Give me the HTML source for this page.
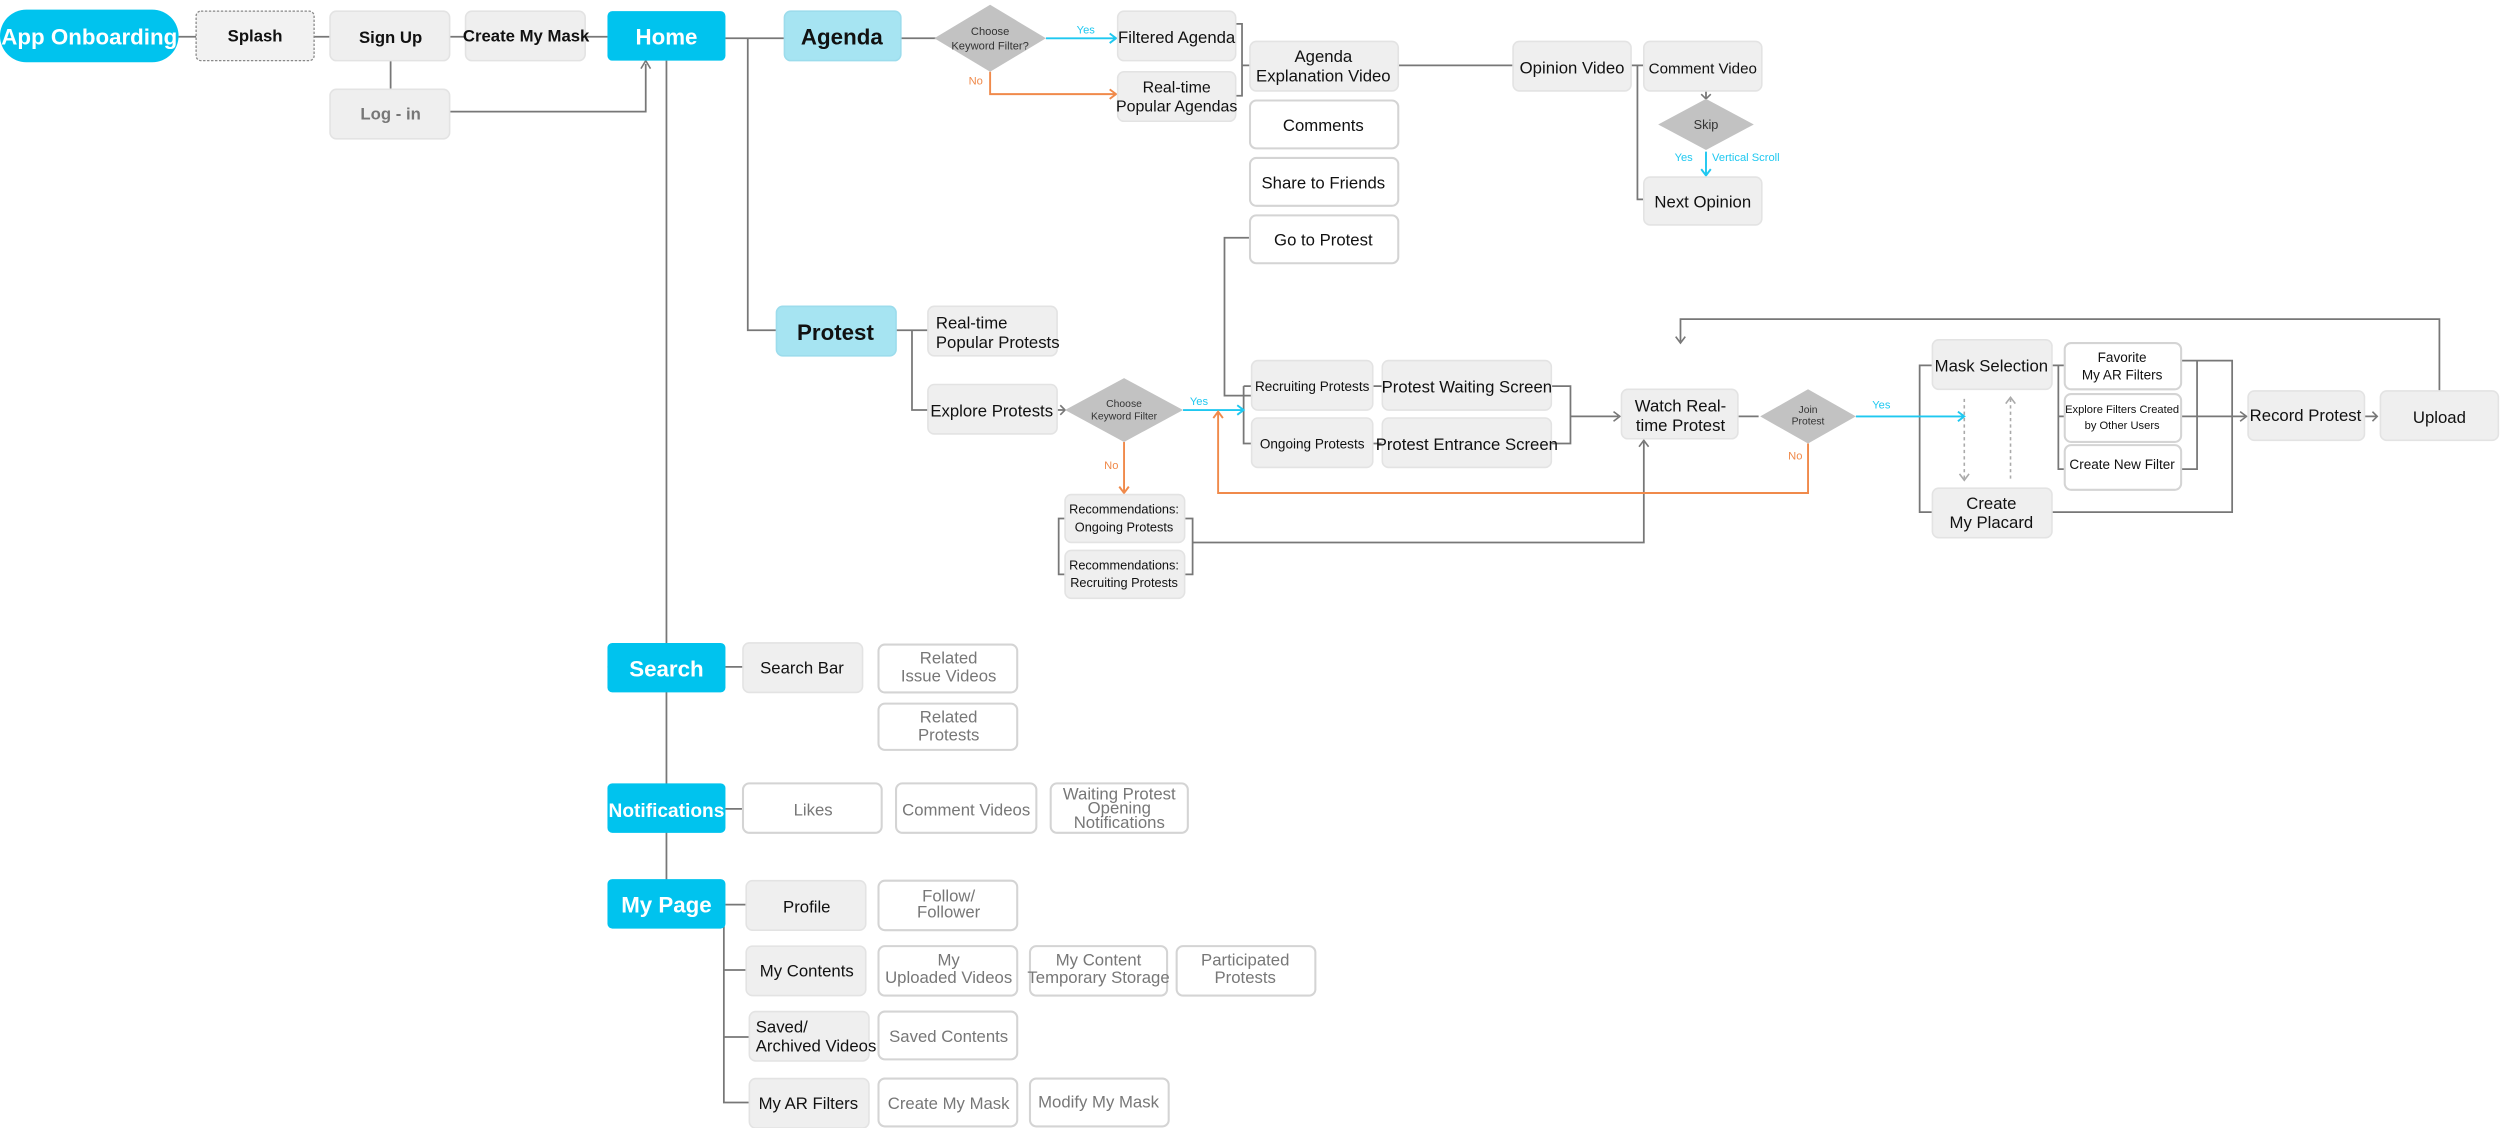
<!DOCTYPE html>
<html><head><meta charset="utf-8"><style>
html,body{margin:0;padding:0;background:#fff;}
svg{display:block;}
text{font-family:"Liberation Sans",Arial,sans-serif;text-anchor:middle;fill:#111;font-size:10.5px;}
.g{fill:#efefef;stroke:#e3e3e3;stroke-width:1;}
.w{fill:#fff;stroke:#d4d4d4;stroke-width:1.3;}
.c{fill:#00c3ee;}
.lb{fill:#a6e4f2;stroke:#9cdcec;stroke-width:1;}
.d{fill:#c2c2c2;}
.ln{fill:none;stroke:#777;stroke-width:1.1;}
.ln2{fill:none;stroke:#999;stroke-width:1.4;}
.cy{fill:none;stroke:#1fc8f0;stroke-width:1.2;}
.or{fill:none;stroke:#f08a4b;stroke-width:1.2;}
.gt{fill:#777;}
.hw{fill:#fff;font-weight:bold;font-size:14px;}
.hb{font-weight:bold;font-size:14px;}
.b{font-weight:bold;font-size:10.5px;}
.s{font-size:7px;}
.y{fill:#1fc8f0;font-size:7px;}
.o{fill:#f08a4b;font-size:7px;}
</style></head><body>
<svg width="2500" height="1128" viewBox="0 0 1568 707" preserveAspectRatio="none" xmlns="http://www.w3.org/2000/svg">
<!-- connectors -->
<g class="ln">
<path d="M112 23H123 M197 23H207 M282 23H292 M367 23H381"/>
<path d="M245 38V56 M282 70H405V40"/>
<path d="M455 24H492 M469 24V207H487 M418 38V567"/>
<path d="M418 418H381 M455 418H466 M455 507H466 M455 567H468 M454 567V691H470 M454 608H468 M454 650H470"/>
<path d="M565 24H588 M562 207H582 M572 207V257H582 M663 257H668"/>
<path d="M775 15H779V60H775 M779 41H784 M877 41H949 M1023 41H1031 M1027 41V125H1031"/>
<path d="M784 149H768V248H785"/>
<path d="M780 242H785 M780 242V278H785 M861 242H867 M861 278H867"/>
<path d="M973 242H985V278H973 M985 261H1015"/>
<path d="M668 325H664V360H668 M743 325H748V360H743 M748 340H1031V277"/>
<path d="M1090 261H1103"/>
<path d="M1212 229H1204V321H1212"/>
<path d="M1287 229H1295 M1291 229V294H1295 M1291 261H1295"/>
<path d="M1368 226H1400V321H1287 M1368 294H1378V226 M1368 261H1408"/>
<path d="M1483 261H1491 M1530 245V200H1054V214"/>
<path d="M1070 57V62"/>
</g>
<g fill="none" stroke="#777" stroke-width="1">
<path d="M402 43L405 38L408 43 M1012 258L1016 261L1012 264 M1028 280L1031 276L1034 280 M1405 258L1409 261L1405 264 M1488 258L1491 261L1488 264 M1051 211L1054 215L1057 211 M1067 59L1070 62L1073 59 M665 254L668 257L665 260"/>
</g>
<g fill="none" stroke="#aaa" stroke-width="1" stroke-dasharray="2,2">
<path d="M1232 250V300 M1261 250V300"/>
</g>
<path d="M1229 297L1232 301L1235 297 M1258 253L1261 249L1264 253" fill="none" stroke="#aaa" stroke-width="1"/>
<g class="cy">
<path d="M656 24H700 M696 21L700 24L696 27 M742 257H780 M776 254L780 257L776 260 M1164 261H1232 M1228 258L1232 261L1228 264 M1070 95V110 M1067 106L1070 110L1073 106"/>
</g>
<g class="or">
<path d="M621 45V59H700 M696 56L700 59L696 62 M705 277V309 M702 305L705 309L708 305 M1134 278V309H764V259 M761 262L764 258L767 262"/>
</g>
<!-- diamonds -->
<polygon class="d" points="621,3 656,24 621,45 586,24"/>
<text class="s" x="621" y="22" style="fill:#333">Choose</text><text class="s" x="621" y="31" style="fill:#333">Keyword Filter?</text>
<polygon class="d" points="705,237 742,257 705,277 668,257"/>
<text class="s" x="705" y="255" style="fill:#333;font-size:6.5px">Choose</text><text class="s" x="705" y="263" style="fill:#333;font-size:6.5px">Keyword Filter</text>
<polygon class="d" points="1070,62 1100,78 1070,94 1040,78"/>
<text x="1070" y="81" style="font-size:8px;fill:#333">Skip</text>
<polygon class="d" points="1134,244 1164,261 1134,278 1104,261"/>
<text class="s" x="1134" y="259" style="fill:#333;font-size:6.5px">Join</text><text class="s" x="1134" y="266" style="fill:#333;font-size:6.5px">Protest</text>
<text class="y" x="681" y="21">Yes</text><text class="o" x="612" y="53">No</text>
<text class="y" x="752" y="254">Yes</text><text class="o" x="697" y="294">No</text>
<text class="y" x="1056" y="101">Yes</text><text class="y" x="1095" y="101">Vertical Scroll</text>
<text class="y" x="1180" y="256">Yes</text><text class="o" x="1126" y="288">No</text>
<!-- top row -->
<rect class="c" x="0" y="6" width="112" height="33" rx="16.5"/><text class="hw" x="56" y="28">App Onboarding</text>
<rect x="123" y="7" width="74" height="31" rx="3" fill="#f2f2f2" stroke="#888" stroke-width="0.8" stroke-dasharray="1.5,1"/><text class="b" x="160" y="26">Splash</text>
<rect class="g" x="207" y="7" width="75" height="31" rx="4"/><text class="b" x="245" y="27">Sign Up</text>
<rect class="g" x="292" y="7" width="75" height="31" rx="4"/><text class="b" x="330" y="26">Create My Mask</text>
<rect class="c" x="381" y="7" width="74" height="31" rx="3"/><text class="hw" x="418" y="28">Home</text>
<rect class="g" x="207" y="56" width="75" height="31" rx="4"/><text x="245" y="75" style="fill:#777;font-weight:bold">Log - in</text>
<rect class="lb" x="492" y="7" width="73" height="31" rx="4"/><text class="hb" x="528" y="28">Agenda</text>
<rect class="g" x="701" y="7" width="74" height="31" rx="4"/><text x="738" y="27">Filtered Agenda</text>
<rect class="g" x="701" y="45" width="74" height="31" rx="4"/><text x="738" y="58" style="font-size:10px">Real-time</text><text x="738" y="70" style="font-size:10px">Popular Agendas</text>
<rect class="g" x="784" y="26" width="93" height="31" rx="4"/><text x="830" y="39">Agenda</text><text x="830" y="51">Explanation Video</text>
<rect class="w" x="784" y="63" width="93" height="30" rx="4"/><text x="830" y="82">Comments</text>
<rect class="w" x="784" y="99" width="93" height="30" rx="4"/><text x="830" y="118">Share to Friends</text>
<rect class="w" x="784" y="135" width="93" height="30" rx="4"/><text x="830" y="154">Go to Protest</text>
<rect class="g" x="949" y="26" width="74" height="31" rx="4"/><text x="986" y="46">Opinion Video</text>
<rect class="g" x="1031" y="26" width="74" height="31" rx="4"/><text x="1068" y="46" style="font-size:9.5px">Comment Video</text>
<rect class="g" x="1031" y="111" width="74" height="30" rx="4"/><text x="1068" y="130">Next Opinion</text>
<!-- protest -->
<rect class="lb" x="487" y="192" width="75" height="31" rx="4"/><text class="hb" x="524" y="213">Protest</text>
<rect class="g" x="582" y="192" width="81" height="31" rx="4"/><text x="587" y="206" style="text-anchor:start">Real-time</text><text x="587" y="218" style="text-anchor:start">Popular Protests</text>
<rect class="g" x="582" y="241" width="81" height="31" rx="4"/><text x="622" y="261">Explore Protests</text>
<rect class="g" x="668" y="310" width="75" height="30" rx="4"/><text x="705" y="322" style="font-size:8px">Recommendations:</text><text x="705" y="333" style="font-size:8px">Ongoing Protests</text>
<rect class="g" x="668" y="345" width="75" height="30" rx="4"/><text x="705" y="357" style="font-size:8px">Recommendations:</text><text x="705" y="368" style="font-size:8px">Recruiting Protests</text>
<rect class="g" x="785" y="226" width="76" height="31" rx="4"/><text x="823" y="245" style="font-size:8.5px">Recruiting Protests</text>
<rect class="g" x="785" y="262" width="76" height="31" rx="4"/><text x="823" y="281" style="font-size:8.5px">Ongoing Protests</text>
<rect class="g" x="867" y="226" width="106" height="31" rx="4"/><text x="920" y="246">Protest Waiting Screen</text>
<rect class="g" x="867" y="262" width="106" height="31" rx="4"/><text x="920" y="282">Protest Entrance Screen</text>
<rect class="g" x="1017" y="244" width="73" height="31" rx="4"/><text x="1054" y="258">Watch Real-</text><text x="1054" y="270">time Protest</text>
<rect class="g" x="1212" y="213" width="75" height="31" rx="4"/><text x="1249" y="233">Mask Selection</text>
<rect class="g" x="1212" y="306" width="75" height="31" rx="4"/><text x="1249" y="319">Create</text><text x="1249" y="331">My Placard</text>
<rect class="w" x="1295" y="215" width="73" height="29" rx="4"/><text x="1331" y="227" style="font-size:8.5px">Favorite</text><text x="1331" y="238" style="font-size:8.5px">My AR Filters</text>
<rect class="w" x="1295" y="247" width="73" height="30" rx="4"/><text x="1331" y="259" style="font-size:7px">Explore Filters Created</text><text x="1331" y="269" style="font-size:7px">by Other Users</text>
<rect class="w" x="1295" y="279" width="73" height="28" rx="4"/><text x="1331" y="294" style="font-size:8.5px">Create New Filter</text>
<rect class="g" x="1410" y="245" width="73" height="31" rx="4"/><text x="1446" y="264">Record Protest</text>
<rect class="g" x="1493" y="245" width="74" height="31" rx="4"/><text x="1530" y="265">Upload</text>
<!-- bottom -->
<rect class="c" x="381" y="403" width="74" height="31" rx="3"/><text class="hw" x="418" y="424">Search</text>
<rect class="g" x="466" y="403" width="75" height="31" rx="4"/><text x="503" y="422">Search Bar</text>
<rect class="w" x="551" y="404" width="87" height="30" rx="4"/><text class="gt" x="595" y="416">Related</text><text class="gt" x="595" y="427">Issue Videos</text>
<rect class="w" x="551" y="441" width="87" height="29" rx="4"/><text class="gt" x="595" y="453">Related</text><text class="gt" x="595" y="464">Protests</text>
<rect class="c" x="381" y="491" width="74" height="31" rx="3"/><text class="hw" x="418" y="512" style="font-size:12px">Notifications</text>
<rect class="w" x="466" y="491" width="87" height="31" rx="4"/><text class="gt" x="510" y="511">Likes</text>
<rect class="w" x="562" y="491" width="88" height="31" rx="4"/><text class="gt" x="606" y="511">Comment Videos</text>
<rect class="w" x="659" y="491" width="86" height="31" rx="4"/><text class="gt" x="702" y="501">Waiting Protest</text><text class="gt" x="702" y="510">Opening</text><text class="gt" x="702" y="519">Notifications</text>
<rect class="c" x="381" y="551" width="74" height="31" rx="3"/><text class="hw" x="418" y="572">My Page</text>
<rect class="g" x="468" y="552" width="75" height="31" rx="4"/><text x="506" y="572">Profile</text>
<rect class="w" x="551" y="552" width="87" height="31" rx="4"/><text class="gt" x="595" y="565">Follow/</text><text class="gt" x="595" y="575">Follower</text>
<rect class="g" x="468" y="593" width="75" height="31" rx="4"/><text x="506" y="612">My Contents</text>
<rect class="w" x="551" y="593" width="87" height="31" rx="4"/><text class="gt" x="595" y="605">My</text><text class="gt" x="595" y="616">Uploaded Videos</text>
<rect class="w" x="646" y="593" width="86" height="31" rx="4"/><text class="gt" x="689" y="605">My Content</text><text class="gt" x="689" y="616">Temporary Storage</text>
<rect class="w" x="738" y="593" width="87" height="31" rx="4"/><text class="gt" x="781" y="605">Participated</text><text class="gt" x="781" y="616">Protests</text>
<rect class="g" x="470" y="634" width="75" height="31" rx="4"/><text x="474" y="647" style="text-anchor:start">Saved/</text><text x="474" y="659" style="text-anchor:start">Archived Videos</text>
<rect class="w" x="551" y="634" width="87" height="30" rx="4"/><text class="gt" x="595" y="653">Saved Contents</text>
<rect class="g" x="470" y="676" width="75" height="31" rx="4"/><text x="507" y="695">My AR Filters</text>
<rect class="w" x="551" y="676" width="87" height="30" rx="4"/><text class="gt" x="595" y="695">Create My Mask</text>
<rect class="w" x="646" y="676" width="87" height="30" rx="4"/><text class="gt" x="689" y="694">Modify My Mask</text>
</svg>
</body></html>
